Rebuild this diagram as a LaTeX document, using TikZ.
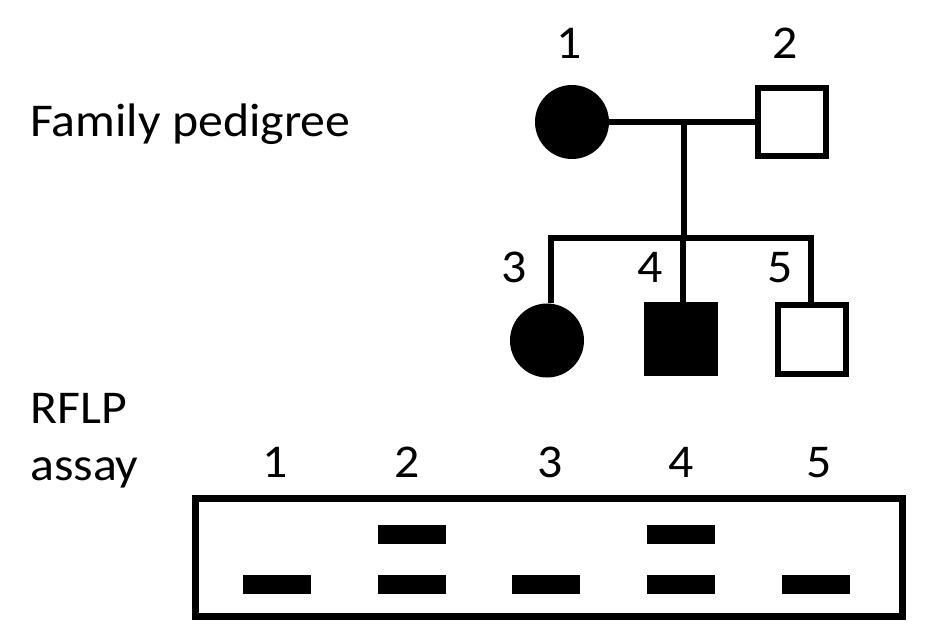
\documentclass[tikz,border=0pt]{standalone}
\usepackage{fontspec}
\setmainfont{Carlito}[FakeStretch=1.06]
\begin{document}
\begin{tikzpicture}[x=1pt,y=-1pt,
  lw/.style={line width=6pt},
  female/.style={circle,fill=black,inner sep=0pt,minimum size=74pt},
  malebox/.style={rectangle,draw=black,line width=6pt,inner sep=0pt,minimum size=68pt},
  affected/.style={fill=black},
  lbl/.style={inner sep=0pt,anchor=base,font=\fontsize{47}{56}\selectfont},
  ttl/.style={inner sep=0pt,anchor=base west,font=\fontsize{47}{56}\selectfont},
  band/.style={rectangle,fill=black,inner sep=0pt,minimum width=68pt,minimum height=19pt}]
\useasboundingbox (0,0) rectangle (929,644);
% titles
\node[ttl] (tfam) at (30,137) {Family pedigree};
\node[ttl] (trflp) at (30,423) {RFLP};
\node[ttl] (tassay) at (30,480) {assay};
% individuals
\node[female] (I1) at (572,122) {};
\node[malebox] (I2) at (791.5,122) {};
\node[female] (I3) at (547,340.5) {};
\node[malebox,affected] (I4) at (681,339) {};
\node[malebox] (I5) at (811.5,339.5) {};
% labels
\node[lbl] (l1) at (569,59) {1};
\node[lbl] (l2) at (785,59) {2};
\node[lbl] (l3) at (514,283) {3};
\node[lbl] (l4) at (650,283) {4};
\node[lbl] (l5) at (780,283) {5};
% connectors
\coordinate (m) at (684,122);
\coordinate (sm) at (684,238);
\coordinate (s3) at (551,238);
\coordinate (s4) at (683,238);
\coordinate (s5) at (811,238);
\draw[lw] (I1.east) -- (I2.west);
\draw[lw] (m) -- (sm);
\draw[lw,line join=miter] (s3 |- I3.north) -- (s3) -- (s5) -- (s5 |- I5.north);
\draw[lw] (s4) -- (s4 |- I4.north);
% gel
\node[rectangle,draw=black,line width=6.5pt,inner sep=0pt,minimum width=707pt,minimum height=118pt] (gel) at (549,557.5) {};
\node[lbl] (g1) at (275,477) {1};
\node[lbl] (g2) at (407,477) {2};
\node[lbl] (g3) at (550,477) {3};
\node[lbl] (g4) at (681,477) {4};
\node[lbl] (g5) at (819,477) {5};
\node[band] (b2u) at (412,534.5) {};
\node[band] (b4u) at (680.5,534.5) {};
\node[band] (b1l) at (277,584.5) {};
\node[band] (b2l) at (412,584.5) {};
\node[band] (b3l) at (546,584.5) {};
\node[band] (b4l) at (680.5,584.5) {};
\node[band] (b5l) at (816,584.5) {};
\end{tikzpicture}
\end{document}
